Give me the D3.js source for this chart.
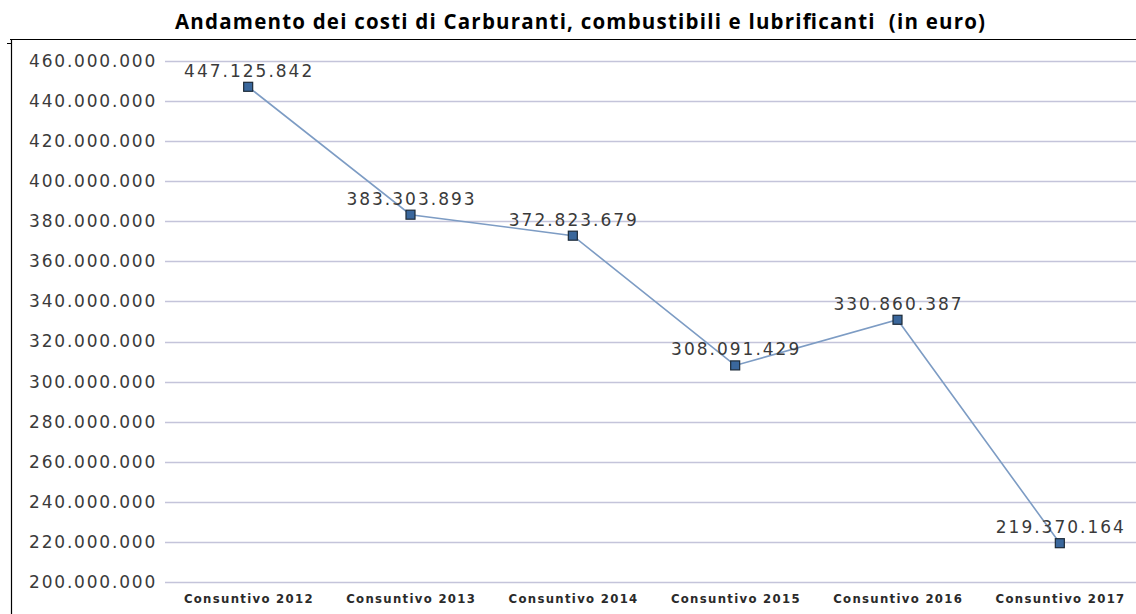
<!DOCTYPE html>
<html>
<head>
<meta charset="utf-8">
<script src="https://cdn.jsdelivr.net/npm/d3@7"></script>
<style>
  body { margin: 0; background: #fff; }
  svg { display: block; }
</style>
</head>
<body>
<div id="chart"></div>
<script>
var categories = ["Consuntivo 2012", "Consuntivo 2013", "Consuntivo 2014", "Consuntivo 2015", "Consuntivo 2016", "Consuntivo 2017"];
var values = [447125842, 383303893, 372823679, 308091429, 330860387, 219370164];
var yTicks = [200000000, 220000000, 240000000, 260000000, 280000000, 300000000, 320000000, 340000000,
              360000000, 380000000, 400000000, 420000000, 440000000, 460000000];

var width = 1136, height = 614;

var svg = d3.select("#chart").append("svg")
  .attr("width", width)
  .attr("height", height);

// title (double space kept as in the original)
svg.append("text")
  .attr("x", 175)
  .attr("y", 29)
  .attr("textLength", 810)
  .attr("lengthAdjust", "spacing")
  .style("white-space", "pre")
  .style("font-family", "'Open Sans', Lato, sans-serif")
  .style("font-weight", "bold")
  .style("font-size", "20.5px")
  .style("fill", "#000")
  .text("Andamento dei costi di Carburanti, combustibili e lubrificanti  (in euro)");

// frame lines (top + left)
svg.append("line")
  .attr("x1", 10).attr("x2", width).attr("y1", 39.5).attr("y2", 39.5)
  .style("stroke", "#000").style("stroke-width", 1.2);
svg.append("line")
  .attr("x1", 11.5).attr("x2", 11.5).attr("y1", 39).attr("y2", height)
  .style("stroke", "#000").style("stroke-width", 1.2);
svg.append("line")
  .attr("x1", 7).attr("x2", 11).attr("y1", 43.5).attr("y2", 43.5)
  .style("stroke", "#000").style("stroke-width", 1);

var x = d3.scaleBand()
  .domain(categories)
  .range([167, 1141]);

var y = d3.scaleLinear()
  .domain([200000000, 460000000])
  .range([582, 61]);

var fmt = function(d) { return d3.format(",")(d).replace(/,/g, "."); };

// gridlines
svg.append("g")
  .selectAll("line")
  .data(yTicks)
  .enter().append("line")
  .attr("x1", 165).attr("x2", width)
  .attr("y1", function(d) { return Math.round(y(d)) + 0.5; })
  .attr("y2", function(d) { return Math.round(y(d)) + 0.5; })
  .style("stroke", "#c4c4da")
  .style("stroke-width", 1.3);

// y axis labels
var yAxis = d3.axisLeft(y).tickValues(yTicks).tickFormat(fmt).tickSize(0).tickPadding(0);
var gy = svg.append("g")
  .attr("transform", "translate(157,0)")
  .call(yAxis);
gy.select(".domain").remove();
gy.selectAll("text")
  .style("font-family", "'DejaVu Sans', sans-serif")
  .style("font-size", "17px")
  .style("letter-spacing", "1.8px")
  .style("fill", "#3a3a3a");

// x axis labels
var xAxis = d3.axisBottom(x).tickSize(0).tickPadding(0);
var gx = svg.append("g")
  .attr("transform", "translate(0,594)")
  .call(xAxis);
gx.select(".domain").remove();
gx.selectAll("text")
  .attr("dx", "0.7")
  .style("font-family", "'DejaVu Sans Condensed', 'DejaVu Sans', sans-serif")
  .style("font-weight", "bold")
  .style("font-size", "13px")
  .style("letter-spacing", "1.3px")
  .style("fill", "#2a2a2a");

var cx = function(d, i) { return x(categories[i]) + x.bandwidth() / 2; };

// line
var line = d3.line()
  .x(function(d, i) { return cx(d, i); })
  .y(function(d) { return y(d); });

svg.append("path")
  .datum(values)
  .attr("d", line)
  .style("fill", "none")
  .style("stroke", "#7d9cc4")
  .style("stroke-width", 1.6);

// markers
svg.append("g")
  .selectAll("rect")
  .data(values)
  .enter().append("rect")
  .attr("x", function(d, i) { return cx(d, i) - 4.5; })
  .attr("y", function(d) { return y(d) - 4.5; })
  .attr("width", 9)
  .attr("height", 9)
  .style("fill", "#3a679c")
  .style("stroke", "#1c2a38")
  .style("stroke-width", 1.2);

// data labels
svg.append("g")
  .selectAll("text")
  .data(values)
  .enter().append("text")
  .attr("x", function(d, i) { return cx(d, i) + 1; })
  .attr("y", function(d) { return y(d) - 10; })
  .attr("text-anchor", "middle")
  .style("font-family", "'DejaVu Sans', sans-serif")
  .style("font-size", "17px")
  .style("letter-spacing", "2px")
  .style("fill", "#3a3a3a")
  .text(fmt);
</script>
</body>
</html>
